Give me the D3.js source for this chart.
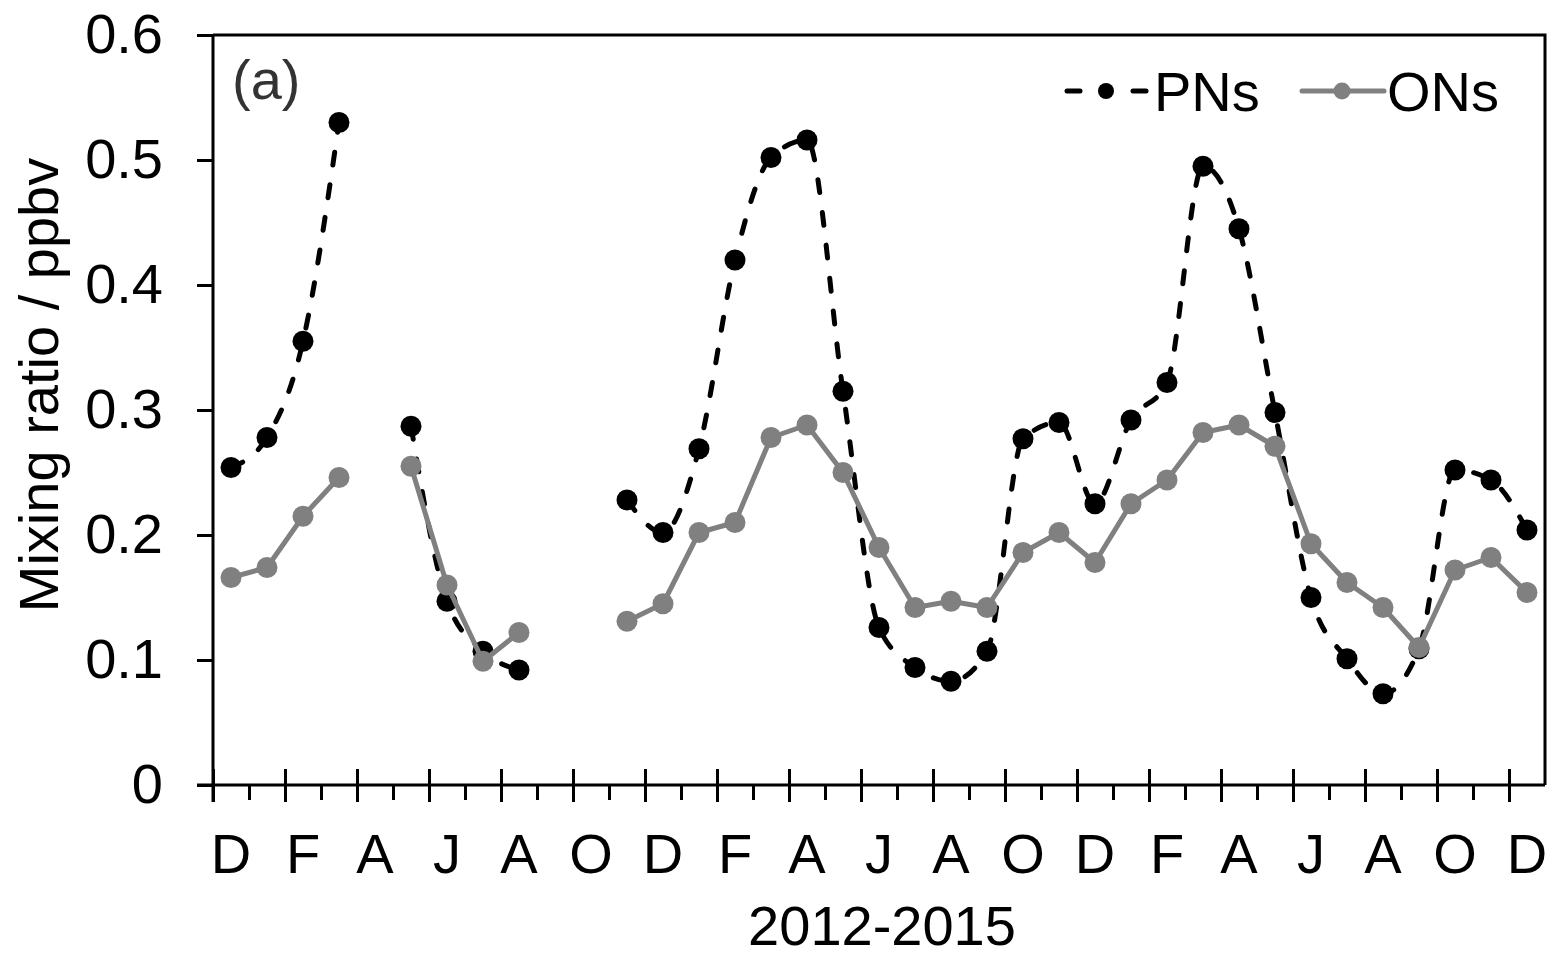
<!DOCTYPE html>
<html>
<head>
<meta charset="utf-8">
<script src="https://cdn.jsdelivr.net/npm/d3@7"></script>
<style>
  body { margin: 0; background: #fff; }
  svg text { font-family: "Liberation Sans", Arial, sans-serif; }
</style>
</head>
<body>
<div id="chart"></div>
<script>
// months Dec 2012 .. Dec 2015
const months = [
  "2012-12", "2013-01", "2013-02", "2013-03", "2013-04", "2013-05", "2013-06",
  "2013-07", "2013-08", "2013-09", "2013-10", "2013-11", "2013-12",
  "2014-01", "2014-02", "2014-03", "2014-04", "2014-05", "2014-06",
  "2014-07", "2014-08", "2014-09", "2014-10", "2014-11", "2014-12",
  "2015-01", "2015-02", "2015-03", "2015-04", "2015-05", "2015-06",
  "2015-07", "2015-08", "2015-09", "2015-10", "2015-11", "2015-12"
];

const monthLetters = ["J", "F", "M", "A", "M", "J", "J", "A", "S", "O", "N", "D"];

// tick labels shown every other month, starting at Dec 2012
const labelledMonths = months.filter((m, i) => i % 2 === 0);

const pns = [0.254, 0.278, 0.355, 0.530, null, 0.287, 0.147, 0.107, 0.092, null, null,
  0.228, 0.202, 0.269, 0.420, 0.502, 0.516, 0.315, 0.126, 0.094, 0.083, 0.107, 0.277,
  0.290, 0.225, 0.292, 0.322, 0.495, 0.445, 0.298, 0.150, 0.101, 0.073, 0.109, 0.252,
  0.244, 0.204];

const ons = [0.166, 0.174, 0.215, 0.246, null, 0.255, 0.160, 0.099, 0.122, null, null,
  0.131, 0.145, 0.202, 0.210, 0.278, 0.288, 0.250, 0.190, 0.142, 0.147, 0.142, 0.186,
  0.202, 0.178, 0.225, 0.244, 0.282, 0.288, 0.271, 0.193, 0.162, 0.142, 0.110, 0.172,
  0.182, 0.154];

const yTicks = [0, 0.1, 0.2, 0.3, 0.4, 0.5, 0.6];

const _width = 1551, _height = 957;
const _left = 213, _right = 1545, _top = 35, _bottom = 785;
const grey = "#808080";

const svg = d3.select("#chart").append("svg")
  .attr("width", _width)
  .attr("height", _height);

const x = d3.scaleBand().domain(months).range([_left, _right]).padding(0);
const xb = d3.scaleLinear().domain([0, months.length]).range([_left, _right]);
const y = d3.scaleLinear().domain([0, 0.6]).range([_bottom, _top]);
const cx = m => x(m) + x.bandwidth() / 2;

// plot area border (top + right)
svg.append("path")
  .attr("d", `M${_left},${_top}H${_right}V${_bottom}`)
  .attr("fill", "none")
  .attr("stroke", "#000")
  .attr("stroke-width", 3);

// y axis
const yAxis = svg.append("g")
  .attr("transform", `translate(${_left},0)`)
  .call(d3.axisLeft(y).tickValues(yTicks).tickSize(16).tickPadding(34)
    .tickFormat(d => d === 0 ? "0" : d3.format(".1f")(d)));
yAxis.select(".domain").attr("stroke-width", 3).attr("d", `M0,${_top}V${_bottom + 17}`);
yAxis.selectAll(".tick line").attr("stroke-width", 3);
yAxis.selectAll(".tick text").attr("font-size", 56).attr("fill", "#000")
  .attr("font-family", "Liberation Sans, Arial, sans-serif");

// x axis: major ticks every two months, minor between
const xMajor = svg.append("g")
  .attr("transform", `translate(0,${_bottom})`)
  .call(d3.axisBottom(xb).tickValues(d3.range(0, months.length, 2)).tickSize(17).tickFormat(""));
xMajor.select(".domain").attr("d", `M${_left - 16},0H${_right}`).attr("stroke-width", 3);
xMajor.selectAll(".tick line").attr("y1", -16).attr("stroke-width", 3);

const xMinor = svg.append("g")
  .attr("transform", `translate(0,${_bottom})`)
  .call(d3.axisBottom(xb).tickValues(d3.range(1, months.length - 1, 2)).tickSize(15).tickFormat(""));
xMinor.select(".domain").remove();
xMinor.selectAll(".tick line").attr("stroke-width", 3);

// month letters
const xLabels = svg.append("g")
  .attr("transform", `translate(0,${_bottom})`)
  .call(d3.axisBottom(x).tickValues(labelledMonths).tickSize(0).tickPadding(48)
    .tickFormat(m => monthLetters[+m.slice(5) - 1]));
xLabels.select(".domain").remove();
xLabels.selectAll(".tick text").attr("font-size", 56).attr("fill", "#000")
  .attr("font-family", "Liberation Sans, Arial, sans-serif");

// axis titles
svg.append("text")
  .attr("x", (_left + _right) / 2 + 3)
  .attr("y", 945)
  .attr("text-anchor", "middle")
  .attr("font-size", 56)
  .text("2012-2015");

svg.append("text")
  .attr("transform", "translate(58,385) rotate(-90)")
  .attr("text-anchor", "middle")
  .attr("font-size", 56)
  .text("Mixing ratio / ppbv");

svg.append("text")
  .attr("x", 232)
  .attr("y", 99)
  .attr("font-size", 56)
  .attr("fill", "#333")
  .text("(a)");

// series
const pnData = months.map((m, i) => ({ m, v: pns[i] }));
const onData = months.map((m, i) => ({ m, v: ons[i] }));

const smooth = d3.line()
  .defined(d => d.v !== null)
  .x(d => cx(d.m))
  .y(d => y(d.v))
  .curve(d3.curveMonotoneX);

const straight = d3.line()
  .defined(d => d.v !== null)
  .x(d => cx(d.m))
  .y(d => y(d.v));

svg.append("path")
  .attr("d", smooth(pnData))
  .attr("fill", "none")
  .attr("stroke", "#000")
  .attr("stroke-width", 5)
  .attr("stroke-linecap", "round")
  .attr("stroke-dasharray", "13,20");

svg.append("g").selectAll("circle")
  .data(pnData.filter(d => d.v !== null))
  .join("circle")
  .attr("cx", d => cx(d.m))
  .attr("cy", d => y(d.v))
  .attr("r", 10.5)
  .attr("fill", "#000");

svg.append("path")
  .attr("d", straight(onData))
  .attr("fill", "none")
  .attr("stroke", grey)
  .attr("stroke-width", 5)
  .attr("stroke-linejoin", "round");

svg.append("g").selectAll("circle")
  .data(onData.filter(d => d.v !== null))
  .join("circle")
  .attr("cx", d => cx(d.m))
  .attr("cy", d => y(d.v))
  .attr("r", 10.5)
  .attr("fill", grey);

// legend
const lg = svg.append("g");
const ly = 91;
[[1067, 1080], [1133, 1146]].forEach(([a, b]) => {
  lg.append("line")
    .attr("x1", a).attr("x2", b).attr("y1", ly).attr("y2", ly)
    .attr("stroke", "#000").attr("stroke-width", 5).attr("stroke-linecap", "round");
});
lg.append("circle").attr("cx", 1106).attr("cy", ly).attr("r", 8).attr("fill", "#000");
lg.append("text").attr("x", 1154).attr("y", 111).attr("font-size", 56).text("PNs");

lg.append("line")
  .attr("x1", 1302).attr("x2", 1384).attr("y1", ly).attr("y2", ly)
  .attr("stroke", grey).attr("stroke-width", 5).attr("stroke-linecap", "round");
lg.append("circle").attr("cx", 1342).attr("cy", ly).attr("r", 8.5).attr("fill", grey);
lg.append("text").attr("x", 1387).attr("y", 111).attr("font-size", 56).text("ONs");
</script>
</body>
</html>
